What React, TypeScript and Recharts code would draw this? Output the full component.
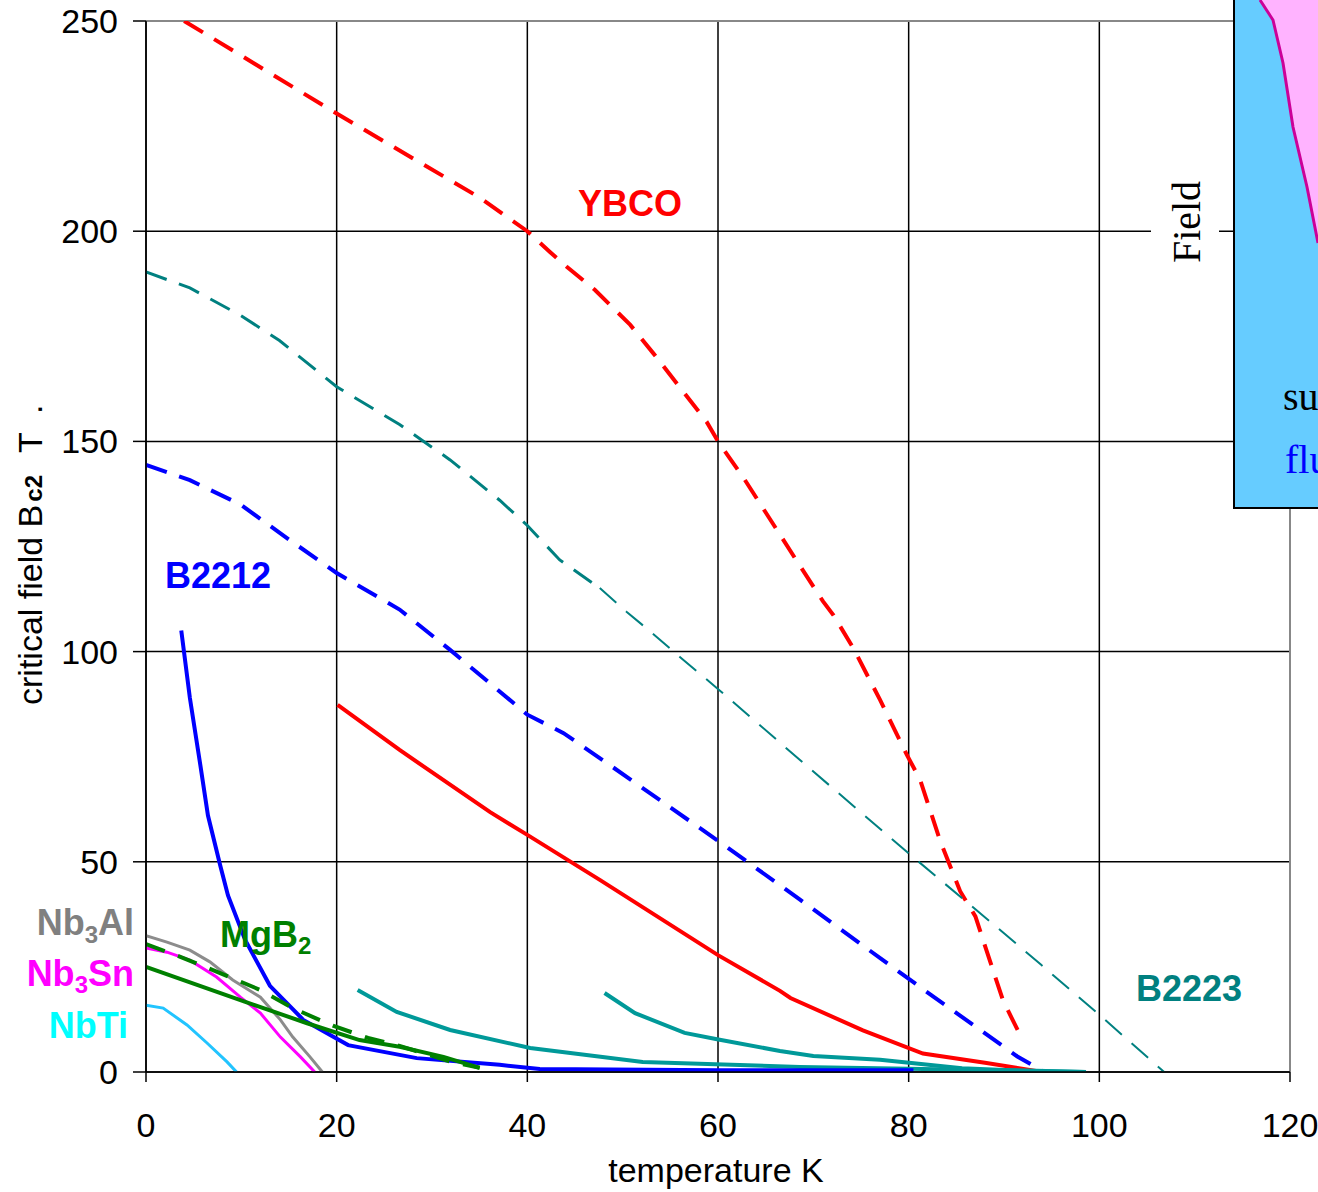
import { LineChart, Line, XAxis, YAxis, CartesianGrid, ReferenceLine, Label } from 'recharts';

// temperature (K) / critical field (T) pairs
const ybcoDashT = [4, 20, 35, 40, 42.4, 44.1, 47.1, 50.8, 53.2, 56.3, 58.8, 60, 62.6, 68.2, 71, 72.1, 74.2, 77, 79.8, 81.2, 83.3, 85.4, 87, 88.5, 89.9, 91.8];
const ybcoDashB = [250, 228, 208, 200, 195, 191.6, 186, 177.7, 171, 162, 154.7, 150, 141.6, 121.8, 112, 108.7, 100.8, 88.5, 75.5, 69.5, 55, 43, 37, 26.6, 17, 8.3];

const b2223DashT = [0, 4.6, 9.9, 14, 20, 26.6, 31.9, 37.1, 40, 43.4, 47.6];
const b2223DashB = [190.3, 186.5, 180, 174, 163, 154, 145.6, 136, 130, 121.8, 115.1];
const b2223ThinT = [47.6, 50.4, 53.2, 56, 59.9, 64.4, 68.6, 80, 90, 93.9, 100, 106.8];
const b2223ThinB = [115.1, 109.5, 104.2, 98.7, 91.3, 82.5, 74.2, 52, 33, 25.5, 13.6, 0];

const b2212DashT = [0, 4.6, 9.9, 15.1, 20, 26.6, 31.9, 40, 43.8, 47.9, 60, 68.6, 77.3, 82, 91.4, 94];
const b2212DashB = [144.4, 140.8, 135, 126.5, 118.7, 110, 100.4, 85, 80.6, 74.2, 55, 41, 26.6, 18.9, 3.7, 0.3];

const ybcoT = [20.1, 26.6, 36.1, 40, 47.6, 60, 66.5, 67.6, 75.2, 81.5, 88, 94];
const ybcoB = [87.3, 76.6, 61.8, 56.4, 45.7, 27.8, 19.3, 17.6, 9.9, 4.4, 2.2, 0];

const b2212T = [3.7, 4.6, 5.7, 6.5, 7.8, 8.6, 10.4, 13, 16.5, 21.2, 28.4, 37.1, 41.3, 60, 80.5];
const b2212B = [105, 89, 73, 61, 49, 42, 31.4, 20.5, 12.4, 6.4, 3.3, 1.7, 0.7, 0.4, 0.4];

const b2223aT = [22.2, 26.3, 31.9, 40.3, 52.1, 68.6, 80, 98.6];
const b2223aB = [19.5, 14.3, 10, 5.7, 2.4, 1.2, 0.8, 0];
const b2223bT = [48.1, 51.3, 56.5, 59.9, 66.5, 70, 77, 85.6, 90, 98.6];
const b2223bB = [18.8, 14, 9.3, 7.8, 5, 3.8, 2.9, 0.9, 0.5, 0];

const mgb2T = [0, 9.9, 16.9, 22.4, 26.6, 31.2, 35];
const mgb2B = [25, 17.1, 11.6, 7.6, 6, 3.6, 1];
const mgb2DashT = [0, 3.6, 7.4, 12, 15.4, 19.6, 23.3, 26.6, 32.2, 35];
const mgb2DashB = [30.4, 27.4, 23.9, 19.5, 15.2, 11, 8.1, 6.2, 2.3, 1];

const nb3alT = [0, 2.2, 4.6, 6.7, 9.1, 12, 14.1, 15.4, 17.2, 18.5];
const nb3alB = [32.4, 30.9, 29, 26.2, 21.9, 17.8, 12.4, 8.3, 3.6, 0];
const nb3snT = [0, 2.2, 4.6, 7.4, 9.9, 12, 14.1, 16.2, 17.7];
const nb3snB = [29.5, 28.5, 26.6, 22.6, 17.8, 14, 8.3, 3.6, 0];
const nbtiT = [0, 1.8, 4.3, 6.4, 8.5, 9.5];
const nbtiB = [15.9, 15.2, 11.2, 6.9, 2.4, 0];

const xTicks = [0, 20, 40, 60, 80, 100, 120];
const yTicks = [0, 50, 100, 150, 200, 250];

const pts = (t: number[], b: number[]) => t.map((x, i) => ({ x, y: b[i] }));

const FONT = '"Liberation Sans", Arial, sans-serif';
const SERIF = '"Liberation Serif", "Times New Roman", serif';

const XTick = ({ x, payload }: any) => (
  <text x={x} y={1137} textAnchor="middle" fontSize={34} fontFamily={FONT} fill="#000">
    {payload.value}
  </text>
);

const YTick = ({ y, payload }: any) => (
  <text x={118} y={y + 12} textAnchor="end" fontSize={34} fontFamily={FONT} fill="#000">
    {payload.value}
  </text>
);

const YLabel = () => (
  <text transform="translate(42,705) rotate(-90)" textAnchor="start" fontSize={34} fontFamily={FONT} fill="#000">
    critical field B<tspan fontSize={24} fontWeight="bold" dx={3}>c2</tspan>
    <tspan dx={22}>T</tspan>
    <tspan dx={22}>.</tspan>
  </text>
);

const series = [
  { key: 'ybcoDash', data: pts(ybcoDashT, ybcoDashB), color: '#ff0000', w: 4, dash: '22 13' },
  { key: 'b2223Dash', data: pts(b2223DashT, b2223DashB), color: '#008080', w: 3, dash: '22 13' },
  { key: 'b2223Thin', data: pts(b2223ThinT, b2223ThinB), color: '#008080', w: 2, dash: '22 13' },
  { key: 'b2212Dash', data: pts(b2212DashT, b2212DashB), color: '#0000ff', w: 4, dash: '22 13' },
  { key: 'ybco', data: pts(ybcoT, ybcoB), color: '#ff0000', w: 4 },
  { key: 'b2223a', data: pts(b2223aT, b2223aB), color: '#009999', w: 4 },
  { key: 'b2223b', data: pts(b2223bT, b2223bB), color: '#009999', w: 4 },
  { key: 'nbti', data: pts(nbtiT, nbtiB), color: '#22c4ff', w: 3 },
  { key: 'nb3al', data: pts(nb3alT, nb3alB), color: '#8c8c8c', w: 3 },
  { key: 'nb3sn', data: pts(nb3snT, nb3snB), color: '#ff00ff', w: 3 },
  { key: 'b2212', data: pts(b2212T, b2212B), color: '#0000ff', w: 4 },
  { key: 'mgb2', data: pts(mgb2T, mgb2B), color: '#008000', w: 4 },
  { key: 'mgb2Dash', data: pts(mgb2DashT, mgb2DashB), color: '#008000', w: 4, dash: '20 14' },
];

export default function App() {
  return (
    <div style={{ position: 'absolute', left: 0, top: 0, width: 1318, height: 1192, background: '#fff', overflow: 'hidden' }}>
      <LineChart width={1318} height={1192} margin={{ top: 21, right: 28, left: 0, bottom: 0 }}>
        <CartesianGrid stroke="#000" strokeWidth={1.5} />
        <XAxis
          type="number"
          dataKey="x"
          domain={[0, 120]}
          ticks={xTicks}
          allowDataOverflow
          height={120}
          stroke="#000"
          strokeWidth={1.5}
          tickSize={10}
          tick={<XTick />}
        >
          <Label
            content={() => (
              <text x={716} y={1182} textAnchor="middle" fontSize={34} fontFamily={FONT} fill="#000">
                temperature K
              </text>
            )}
          />
        </XAxis>
        <YAxis
          type="number"
          dataKey="y"
          domain={[0, 250]}
          ticks={yTicks}
          allowDataOverflow
          width={146}
          stroke="#000"
          strokeWidth={1.5}
          tickSize={13}
          tick={<YTick />}
        >
          <Label content={() => <YLabel />} />
        </YAxis>
        <ReferenceLine y={250} stroke="#888" strokeWidth={2} />
        <ReferenceLine x={120} stroke="#888" strokeWidth={2} />
        {series.map((s) => (
          <Line
            key={s.key}
            data={s.data}
            dataKey="y"
            type="linear"
            stroke={s.color}
            strokeWidth={s.w}
            strokeDasharray={s.dash}
            dot={false}
            activeDot={false}
            isAnimationActive={false}
          />
        ))}
      </LineChart>
      <svg width={1318} height={1192} style={{ position: 'absolute', left: 0, top: 0, pointerEvents: 'none' }}>
        <g fontFamily={FONT} fontWeight="bold" fontSize={36}>
          <text x={630} y={216} textAnchor="middle" fill="#ff0000">YBCO</text>
          <text x={165} y={588} fill="#0000ff">B2212</text>
          <text x={1136} y={1001} fill="#008080">B2223</text>
          <text x={220} y={947} fill="#008000">
            MgB<tspan fontSize={24} dy={7}>2</tspan>
          </text>
          <text x={134} y={935} textAnchor="end" fill="#808080">
            Nb<tspan fontSize={24} dy={8}>3</tspan><tspan dy={-8}>Al</tspan>
          </text>
          <text x={134} y={986} textAnchor="end" fill="#ff00ff">
            Nb<tspan fontSize={24} dy={7}>3</tspan><tspan dy={-7}>Sn</tspan>
          </text>
          <text x={128} y={1038} textAnchor="end" fill="#00ffff">NbTi</text>
        </g>
        <rect x={1151} y={172} width={68} height={100} fill="#fff" />
        <text transform="translate(1200,222) rotate(-90)" textAnchor="middle" fontSize={40} fontFamily={SERIF} fill="#000">
          Field
        </text>
        <rect x={1234} y={-2} width={90} height={510} fill="#66ccff" stroke="#000" strokeWidth={2} />
        <path
          d="M1260,0 L1273,20 L1283,63 L1293,127 L1307,187 L1318,243 L1318,0 Z"
          fill="#ffb3ff"
        />
        <path d="M1260,0 L1273,20 L1283,63 L1293,127 L1307,187 L1318,243" fill="none" stroke="#cc0099" strokeWidth={3} />
        <text x={1283} y={410} fontSize={40} fontFamily={SERIF} fill="#000">su</text>
        <text x={1285} y={473} fontSize={40} fontFamily={SERIF} fill="#0000ff">flu</text>
      </svg>
    </div>
  );
}
